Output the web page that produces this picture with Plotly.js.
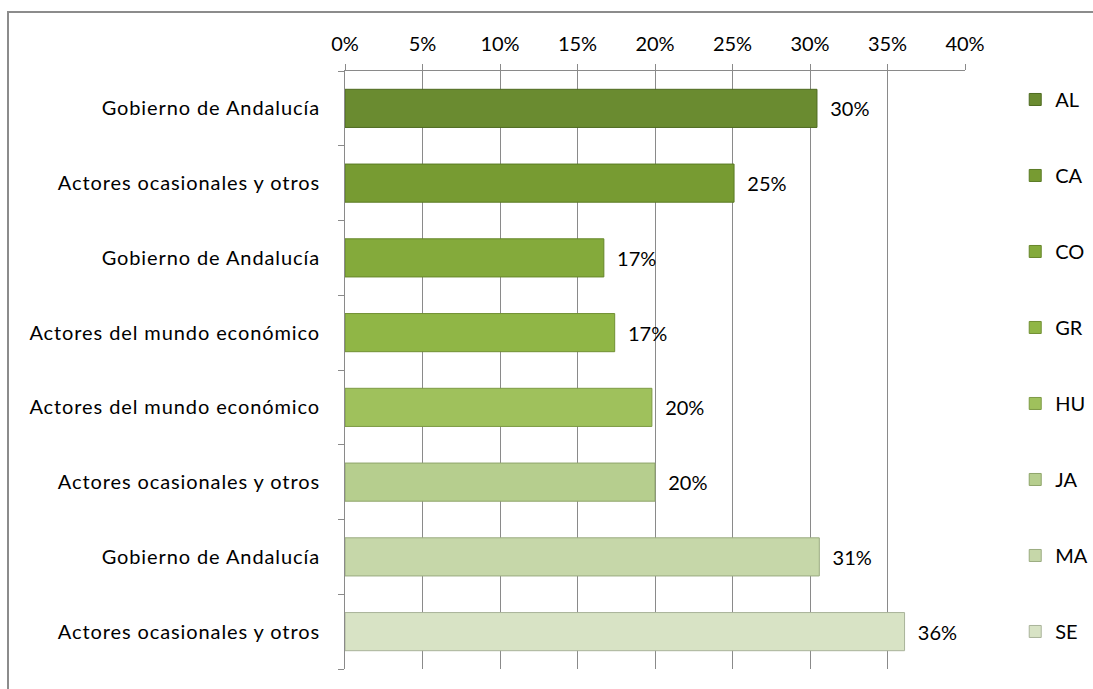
<!DOCTYPE html>
<html>
<head>
<meta charset="utf-8">
<script src="https://cdn.plot.ly/plotly-3.0.1.min.js"></script>
<style>
  html, body { margin: 0; padding: 0; background: #fff; overflow: hidden; }
  #wrap { position: relative; width: 1093px; height: 689px; }
  #frame { position: absolute; left: 7px; top: 11px; width: 1200px; height: 800px; border: 2px solid #8c8c8c; pointer-events: none; }
  #chart { position: absolute; left: 0; top: 0; width: 1093px; height: 689px; }
  #chart .ytick text { letter-spacing: 0.9px; }
</style>
</head>
<body>
<div id="wrap">
  <div id="chart"></div>
  <div id="frame"></div>
</div>
<script>
// Data
const series = ["AL", "CA", "CO", "GR", "HU", "JA", "MA", "SE"];
const categories = [
  "Gobierno de Andalucía",
  "Actores ocasionales y otros",
  "Gobierno de Andalucía",
  "Actores del mundo económico",
  "Actores del mundo económico",
  "Actores ocasionales y otros",
  "Gobierno de Andalucía",
  "Actores ocasionales y otros"
];
const values = [0.3045, 0.251, 0.167, 0.174, 0.198, 0.200, 0.306, 0.361];
const colors = ["#6a8b30", "#779b32", "#84aa3b", "#90b646", "#9fc15c", "#b6ce8e", "#c6d7a9", "#d8e3c5"];
const edgeColors = ["#4e6a20", "#5a7a24", "#66862a", "#718f33", "#7d9a45", "#8ea46a", "#9aab80", "#a9b39a"];
const xTicks = [0, 0.05, 0.10, 0.15, 0.20, 0.25, 0.30, 0.35, 0.40];

const FONT = "Lato, Open Sans, sans-serif";
const FS = 20;

const traces = series.map((name, i) => ({
  type: "bar",
  orientation: "h",
  name: name,
  x: [values[i]],
  y: [i],
  width: 0.51,
  marker: { color: colors[i], line: { color: edgeColors[i], width: 1 } },
  texttemplate: "  %{x:.0%}",
  textposition: "outside",
  cliponaxis: false,
  textfont: { family: FONT, size: FS, color: "#000" },
  legendgroup: name,
  hoverinfo: "x+name"
}));

const layout = {
  width: 1093,
  height: 689,
  paper_bgcolor: "#fff",
  plot_bgcolor: "#fff",
  margin: { l: 345, r: 128, t: 71, b: 20, autoexpand: false },
  barmode: "overlay",
  font: { family: FONT, size: FS, color: "#000" },
  showlegend: true,
  legend: {
    x: 1.081, xanchor: "left",
    y: 0.985, yanchor: "top",
    tracegroupgap: 47,
    font: { family: FONT, size: 20, color: "#000" },
    itemwidth: 30,
    bgcolor: "rgba(0,0,0,0)"
  },
  xaxis: {
    side: "top",
    range: [0, 0.4],
    tickvals: xTicks,
    tickformat: ".0%",
    showgrid: true,
    gridcolor: "#8a8a8a",
    gridwidth: 1,
    zeroline: false,
    showline: true,
    linecolor: "#8a8a8a",
    linewidth: 1,
    ticks: "outside",
    ticklen: 6,
    tickcolor: "#8a8a8a",
    ticklabelstandoff: 5,
    tickfont: { family: FONT, size: FS, color: "#000" },
    fixedrange: true
  },
  yaxis: {
    range: [7.5, -0.5],
    tickvals: categories.map((c, i) => i),
    ticktext: categories,
    ticks: "",
    showgrid: false,
    zeroline: false,
    showline: true,
    linecolor: "#8a8a8a",
    linewidth: 1,
    ticklabelstandoff: 20,
    tickfont: { family: FONT, size: FS, color: "#000" },
    minor: {
      tickvals: [-0.5, 0.5, 1.5, 2.5, 3.5, 4.5, 5.5, 6.5, 7.5],
      ticks: "outside",
      ticklen: 6,
      tickcolor: "#8a8a8a",
      showgrid: false
    },
    fixedrange: true
  }
};

Plotly.newPlot("chart", traces, layout, { displayModeBar: false, staticPlot: true });
</script>
</body>
</html>
